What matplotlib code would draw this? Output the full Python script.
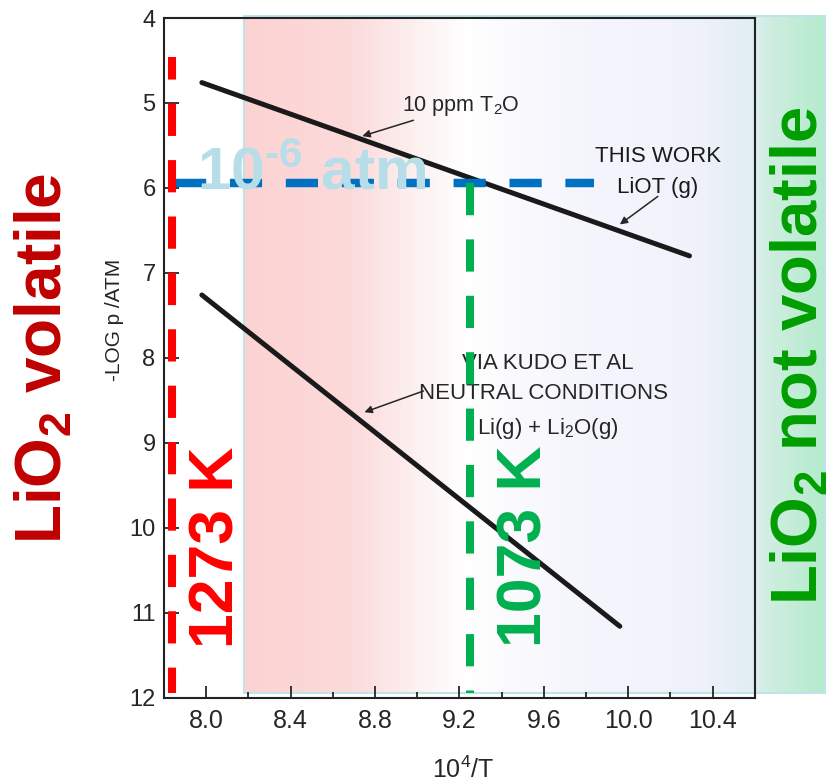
import matplotlib
matplotlib.use('Agg')
import matplotlib.pyplot as plt
import numpy as np
from matplotlib.colors import LinearSegmentedColormap
from matplotlib.patches import Rectangle

plt.rcParams['font.family'] = ['Liberation Sans', 'DejaVu Sans']
plt.rcParams['mathtext.fontset'] = 'custom'
plt.rcParams['mathtext.rm'] = 'Liberation Sans:bold'
plt.rcParams['mathtext.bf'] = 'Liberation Sans:bold'
plt.rcParams['mathtext.it'] = 'Liberation Sans'

# data (x = 10^4/T, y = -log p/atm)
x_ticks = [8.0, 8.4, 8.8, 9.2, 9.6, 10.0, 10.4]
x_tick_labels = ["8.0", "8.4", "8.8", "9.2", "9.6", "10.0", "10.4"]
y_ticks = [4, 5, 6, 7, 8, 9, 10, 11, 12]
this_work_x = [7.98, 10.29]
this_work_y = [4.76, 6.80]
kudo_x = [7.98, 9.96]
kudo_y = [7.26, 11.16]
p_limit = 5.94          # 10^-6 atm level
x_1273 = 7.84           # 10^4/1273 K
x_1073 = 9.25           # 10^4/1073 K

SCAN = "#262626"

fig = plt.figure(figsize=(8.36, 7.83), dpi=100)
ax = fig.add_axes([0.196, 0.109, 0.707, 0.868])

# shaded band (pink -> white -> lavender -> green), runs past the right spine
stops = [(0.0, "#FDD3D3"), (0.18, "#FCDADA"), (0.32, "#FDF5F5"), (0.38, "#FFFFFF"),
         (0.55, "#F6F6FD"), (0.78, "#F0F2FB"), (0.87, "#E2EEF3"), (0.905, "#D0EEE1"),
         (1.0, "#B4EBCD")]
cmap = LinearSegmentedColormap.from_list("band", stops)
ax.imshow(np.linspace(0, 1, 256)[None, :], cmap=cmap, aspect='auto',
          extent=(8.18, 10.93, 11.94, 3.98), zorder=0, clip_on=False)
ax.add_patch(Rectangle((8.18, 3.98), 10.93 - 8.18, 11.94 - 3.98, fill=False,
                       ec="#BFE3E8", lw=1.5, clip_on=False, zorder=1))

# scanned curves
ax.plot(this_work_x, this_work_y, color="#1a1a1a", lw=3.6, solid_capstyle='round', zorder=3)
ax.plot(kudo_x, kudo_y, color="#1a1a1a", lw=3.6, solid_capstyle='round', zorder=3)

arrow = dict(arrowstyle='-|>', lw=1.1, color=SCAN, mutation_scale=11, shrinkA=0, shrinkB=0)
ax.annotate(r"10 ppm T$_{\mathregular{2}}$O", xy=(8.74, 5.39), xytext=(8.93, 5.03),
            fontsize=15.5, color=SCAN, ha='left', va='center', arrowprops=arrow, zorder=4)
ax.annotate("", xy=(9.96, 6.43), xytext=(10.14, 6.10), arrowprops=arrow, zorder=4)
ax.text(10.14, 5.63, "THIS WORK", fontsize=16, color="#1a1a1a",
        ha='center', va='center', zorder=4)
ax.text(10.14, 6.0, "LiOT (g)", fontsize=16, color="#1a1a1a",
        ha='center', va='center', zorder=4)
ax.annotate("", xy=(8.75, 8.64), xytext=(9.03, 8.39), arrowprops=arrow, zorder=4)
ax.text(9.62, 8.07, "VIA KUDO ET AL", fontsize=16, color=SCAN,
        ha='center', va='center', zorder=4)
ax.text(9.60, 8.42, "NEUTRAL CONDITIONS", fontsize=16, color=SCAN,
        ha='center', va='center', zorder=4)
ax.text(9.62, 8.83, r"Li(g) + Li$_{\mathregular{2}}$O(g)", fontsize=16, color=SCAN,
        ha='center', va='center', zorder=4)

# overlays
ax.plot([7.85, 9.84], [p_limit, p_limit], color="#0070C0", lw=6.1,
        ls=(0, (3.8, 2.8)), clip_on=False, zorder=5)
ax.plot([x_1273, x_1273], [4.46, 11.94], color="#FF0000", lw=5.8,
        ls=(1.2, (4, 3)), clip_on=False, zorder=5)
ax.plot([x_1073, x_1073], [p_limit, 11.94], color="#00B050", lw=5.8,
        ls=(0, (4, 3)), clip_on=False, zorder=5)

ax.text(7.955, 6.02, r"10$^{\text{-}\mathbf{6}}$ atm", fontsize=43.5, fontweight='bold',
        color="#B7DEE8", ha='left', va='baseline', zorder=6)
ax.text(8.05, 10.23, "1273 K", fontsize=45, fontweight='bold', color="#FF0000",
        rotation=90, ha='center', va='center', zorder=6)
ax.text(9.51, 10.22, "1073 K", fontsize=45, fontweight='bold', color="#00B050",
        rotation=90, ha='center', va='center', zorder=6)
ax.text(10.815, 7.98, r"LiO$_\mathbf{2}$ not volatile", fontsize=47, fontweight='bold',
        color="#009E00", rotation=90, ha='center', va='center', clip_on=False, zorder=6)
fig.text(44 / 836, 1 - 358 / 783, r"LiO$_\mathbf{2}$ volatile", fontsize=46,
         fontweight='bold', color="#C00000", rotation=90, ha='center', va='center')

# axes styling to mimic the scan
ax.set_xlim(7.8, 10.6)
ax.set_ylim(12, 4)
ax.set_xticks(x_ticks)
ax.set_xticklabels(x_tick_labels)
ax.set_xticks(np.arange(8.2, 10.6, 0.4), minor=True)
ax.set_yticks(y_ticks)
ax.set_yticklabels([str(v) for v in y_ticks])
ax.tick_params(axis='x', which='major', direction='in', length=9, width=1.3,
               pad=8, labelsize=18, colors=SCAN)
ax.tick_params(axis='x', which='minor', direction='in', length=4, width=1.3, colors=SCAN)
ax.tick_params(axis='y', direction='in', length=11, width=1.3, pad=6,
               labelsize=17, colors=SCAN)
for s in ax.spines.values():
    s.set_linewidth(1.5)
    s.set_color("#222222")
    s.set_zorder(2)

fig.text(115 / 836, 1 - 320 / 783, "-LOG p /ATM", fontsize=15, rotation=90,
         ha='center', va='center', color=SCAN)
fig.text(463 / 836, 1 - 770 / 783, r"10$^{\mathregular{4}}$/T", fontsize=18, ha='center',
         va='center', color=SCAN)

fig.savefig("out.png", dpi=100)
print("saved out.png")
